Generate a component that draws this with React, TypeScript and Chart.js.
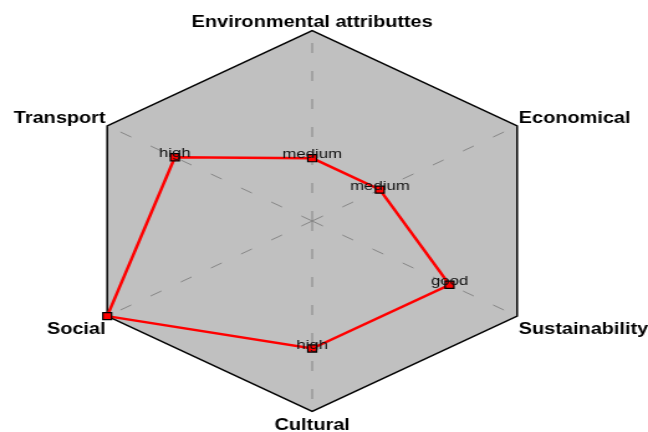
import { useEffect, useRef } from "react";
import { Chart, registerables } from "chart.js";

Chart.register(...registerables);

// ---- data ----
const categories = [
  "Environmental attributtes",
  "Economical",
  "Sustainability",
  "Cultural",
  "Social",
  "Transport",
];
const values = [0.33, 0.33, 0.67, 0.67, 1, 0.67];
const valueLabels = ["medium", "medium", "good", "high", "", "high"];
const scaleMin = 0;
const scaleMax = 1;

// the reference picture is horizontally stretched
const VIEW_W = 648;
const VIEW_H = 432;
const BASE_W = 521;
const STRETCH = VIEW_W / BASE_W;
const CANVAS_W = 622; // wider canvas so point labels have room; extra is cropped
const CANVAS_OFFSET = -60;

const FONT = "'Liberation Sans', Arial, Helvetica, sans-serif";
const LABEL_FONT_SIZE = 16;
const LABEL_SHIFT_Y = 3;

// draws the axis (point) labels at the positions Chart.js laid out, nudged down slightly
const pointLabelPlugin = {
  id: "pointLabelText",
  afterDraw(chart: any) {
    const scale = chart.scales.r;
    const items = scale._pointLabelItems || [];
    const ctx = chart.ctx;
    const lineHeight = LABEL_FONT_SIZE * 1.2;
    ctx.save();
    ctx.font = `bold ${LABEL_FONT_SIZE}px ${FONT}`;
    ctx.fillStyle = "#000000";
    ctx.textBaseline = "middle";
    items.forEach((item: any, i: number) => {
      ctx.textAlign = item.textAlign;
      ctx.fillText(scale._pointLabels[i], item.x, item.y + lineHeight / 2 + LABEL_SHIFT_Y);
    });
    ctx.restore();
  },
};

const valueLabelPlugin = {
  id: "valueLabels",
  afterDatasetsDraw(chart: any) {
    const ctx = chart.ctx;
    const meta = chart.getDatasetMeta(0);
    ctx.save();
    ctx.font = `13.5px ${FONT}`;
    ctx.fillStyle = "#111111";
    ctx.textAlign = "center";
    ctx.textBaseline = "alphabetic";
    meta.data.forEach((pt: any, i: number) => {
      const t = valueLabels[i];
      if (t) ctx.fillText(t, pt.x, pt.y);
    });
    ctx.restore();
  },
};

export default function App() {
  const ref = useRef<HTMLCanvasElement | null>(null);

  useEffect(() => {
    if (!ref.current) return;
    const chart = new Chart(ref.current, {
      type: "radar",
      data: {
        labels: categories,
        datasets: [
          {
            data: values,
            borderColor: "#ff0000",
            borderWidth: 2.5,
            fill: false,
            pointStyle: "rect",
            pointRadius: 5,
            pointBackgroundColor: "#ff0000",
            pointBorderColor: "#000000",
            pointBorderWidth: 1.2,
          },
        ],
      },
      options: {
        animation: false,
        responsive: false,
        layout: { padding: { left: 0, right: 0, top: 10, bottom: 0 } },
        plugins: {
          legend: { display: false },
          tooltip: { enabled: false },
        },
        scales: {
          r: {
            min: scaleMin,
            max: scaleMax,
            backgroundColor: "#c0c0c0",
            ticks: { display: false, stepSize: 1 },
            grid: { color: "#000000", lineWidth: 1.5 },
            angleLines: {
              color: "#808080",
              lineWidth: 0.9,
              borderDash: [10, 18],
            },
            pointLabels: {
              display: true,
              color: "rgba(0,0,0,0)",
              padding: 1.5,
              font: { family: FONT, size: LABEL_FONT_SIZE, weight: "bold" },
            },
          },
        },
      },
      plugins: [valueLabelPlugin, pointLabelPlugin],
    } as any);
    return () => chart.destroy();
  }, []);

  return (
    <div
      style={{
        position: "absolute",
        left: 0,
        top: 0,
        width: VIEW_W,
        height: VIEW_H,
        overflow: "hidden",
        background: "#ffffff",
      }}
    >
      <div
        style={{
          position: "absolute",
          left: 0,
          top: 0,
          width: BASE_W,
          height: VIEW_H,
          transform: `scaleX(${STRETCH})`,
          transformOrigin: "0 0",
        }}
      >
        <canvas
          ref={ref}
          width={CANVAS_W}
          height={VIEW_H}
          style={{ position: "absolute", left: CANVAS_OFFSET, top: 0 }}
        />
      </div>
    </div>
  );
}
